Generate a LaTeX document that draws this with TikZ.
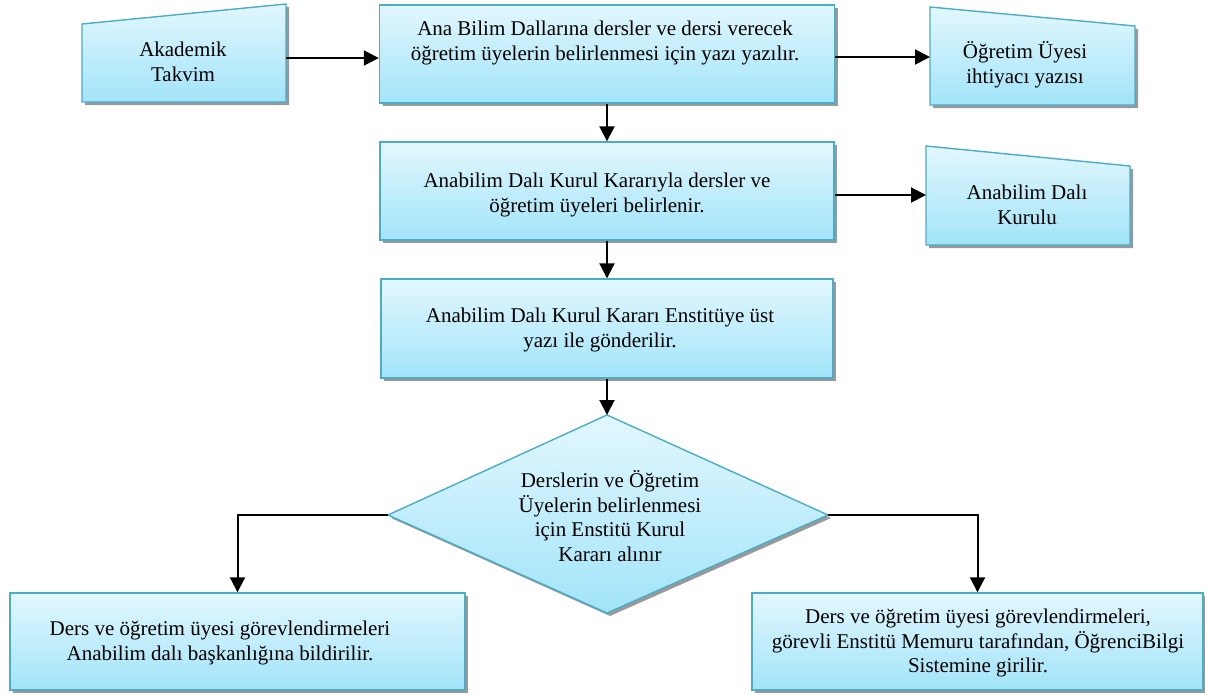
\documentclass[tikz,border=0pt]{standalone}
\usepackage{fontspec}
\setmainfont{Liberation Serif}
\usetikzlibrary{arrows.meta,shadows,calc}
\definecolor{bord}{HTML}{4BACC6}
\definecolor{ctop}{HTML}{E2F7FD}
\definecolor{cbot}{HTML}{A2E4F9}
\definecolor{shad}{HTML}{999999}
\begin{document}
\begin{tikzpicture}[x=1pt,y=-1pt,
  shp/.style={draw=bord, line width=1.4pt, top color=ctop, bottom color=cbot},
  box/.style={shp, rectangle, inner sep=0pt, general shadow={fill=shad, shadow xshift=3pt, shadow yshift=-3pt}},
  sh/.style={fill=shad},
  txt/.style={align=center, font=\fontsize{21}{24.5}\selectfont, inner sep=0pt},
  arr/.style={line width=2pt, -{Triangle[length=15pt,width=15pt]}}]
\useasboundingbox (0,0) rectangle (1205,694);
% rectangular boxes
\node[box, minimum width=455pt, minimum height=98pt] (b1) at (607,54) {};
\node[box, minimum width=454pt, minimum height=98pt] (b2) at (607,191) {};
\node[box, minimum width=452pt, minimum height=99pt] (b3) at (607,328.5) {};
\node[box, minimum width=455pt, minimum height=97pt] (bl) at (237.5,641.5) {};
\node[box, minimum width=451pt, minimum height=97pt] (br) at (977.5,641.5) {};
% manual input shapes
\fill[sh] (85,27) -- (289,7) -- (289,105) -- (85,105) -- cycle;
\path[shp] (82,24) -- (286,4) -- (286,102) -- (82,102) -- cycle;
\fill[sh] (933,10) -- (1138,29) -- (1138,108) -- (933,108) -- cycle;
\path[shp] (930,7) -- (1135,26) -- (1135,105) -- (930,105) -- cycle;
\fill[sh] (929,149) -- (1133,169) -- (1133,248) -- (929,248) -- cycle;
\path[shp] (926,146) -- (1130,166) -- (1130,245) -- (926,245) -- cycle;
% diamond
\fill[sh] (610,418) -- (831,518) -- (610,616) -- (391,518) -- cycle;
\path[shp] (607,415) -- (828,515) -- (607,613) -- (388,515) -- cycle;
% texts
\node[txt] (t0) at (183,62) {Akademik\\Takvim};
\node[txt] (t1) at (605,43) {Ana Bilim Dallarına dersler ve dersi verecek\\öğretim üyelerin belirlenmesi için yazı yazılır.};
\node[txt] (t2) at (1025,65) {Öğretim Üyesi\\ ihtiyacı yazısı};
\node[txt] (t3) at (597,195) {Anabilim Dalı Kurul Kararıyla dersler ve\\öğretim üyeleri belirlenir.};
\node[txt] (t4) at (1027,205) {Anabilim Dalı\\Kurulu};
\node[txt] (t5) at (600,330) {Anabilim Dalı Kurul Kararı Enstitüye üst\\yazı ile gönderilir.};
\node[txt] (t6) at (610,516) {Derslerin ve Öğretim\\Üyelerin belirlenmesi\\için Enstitü Kurul\\Kararı alınır};
\node[txt] (t7) at (220,643) {Ders ve öğretim üyesi görevlendirmeleri\\Anabilim dalı başkanlığına bildirilir.};
\node[txt] (t8) at (978,643) {Ders ve öğretim üyesi görevlendirmeleri,\\görevli Enstitü Memuru tarafından, ÖğrenciBilgi\\Sistemine girilir.};
% coordinates
\coordinate (akR) at (286,58);
\coordinate (oL) at (930,57);
\coordinate (kuL) at (926,195);
\coordinate (dT) at (607,415);
\coordinate (dL) at (388,515);
\coordinate (dR) at (828,515);
% connectors
\draw[arr] (akR) -- (akR -| b1.west);
\draw[arr] (oL -| b1.east) -- (oL);
\draw[arr] (kuL -| b2.east) -- (kuL);
\draw[arr] (b1.south) -- (b2.north);
\draw[arr] (b2.south) -- (b3.north);
\draw[arr] (b3.south) -- (dT);
\draw[arr] (dL) -| (bl.north);
\draw[arr] (dR) -| (br.north);
\end{tikzpicture}
\end{document}
